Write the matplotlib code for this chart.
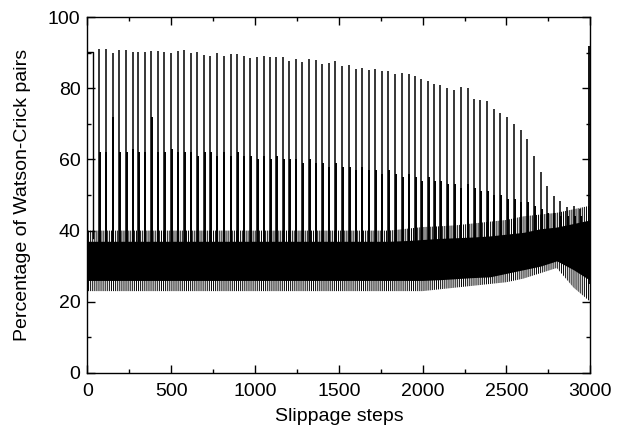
import matplotlib
matplotlib.use("Agg")
import matplotlib.pyplot as plt
from matplotlib.ticker import MultipleLocator

# spike positions (slippage step)
spike_steps = [70, 110, 150, 190, 230, 270, 305, 341, 381, 420,
               460, 498, 538, 577, 617, 655, 695, 734, 771, 814,
               854, 893, 932, 971, 1011, 1051, 1090, 1128, 1166, 1204,
               1243, 1283, 1323, 1361, 1400, 1440, 1480, 1520, 1560, 1600,
               1637, 1677, 1716, 1756, 1796, 1836, 1876, 1916, 1955, 1993,
               2031, 2067, 2105, 2146, 2186, 2226, 2268, 2307, 2345, 2384,
               2424, 2464, 2504, 2544, 2584, 2623, 2665, 2705, 2742, 2782,
               2822, 2862, 2902, 2941]
# spike tops (%)
spike_peak = [91.0, 91.0, 89.9, 90.8, 90.6, 90.3, 90.3, 90.2, 90.4, 90.4,
              90.2, 89.8, 90.4, 90.6, 90.0, 90.2, 89.4, 89.1, 89.9, 89.1,
              89.5, 89.5, 89.1, 88.5, 88.8, 89.1, 88.8, 88.8, 88.8, 87.6,
              88.3, 87.4, 88.1, 87.9, 86.7, 87.0, 87.7, 86.3, 86.6, 85.5,
              85.7, 85.1, 85.5, 84.8, 84.8, 84.0, 84.3, 84.0, 83.3, 82.6,
              81.9, 81.1, 81.0, 80.1, 79.6, 80.3, 80.1, 77.0, 76.8, 76.3,
              74.2, 73.0, 71.9, 70.0, 68.3, 65.7, 61.0, 56.6, 52.4, 49.6,
              48.2, 46.5, 47.0, 46.0]
# shorter companion line next to each spike (%)
spike_mid = [62, 62, 72, 62, 62, 63, 62, 62, 72, 62,
             62, 63, 62, 62, 62, 61, 62, 62, 61, 62,
             61, 62, 61, 61, 60, 61, 60, 61, 60, 60,
             60, 59, 60, 59, 59, 58, 59, 58, 58, 57,
             58, 57, 57, 56, 57, 56, 55, 56, 55, 54,
             55, 54, 54, 53, 53, 52, 53, 52, 51, 51,
             50, 50, 49, 49, 48, 48, 47, 46, 45, 45,
             44, 44, 44, 44]

# start plateau and last spike
start_steps = [0, 35, 35]
start_vals = [90.2, 90.2, 38]
end_step = 2995
end_peak = 91.8

# envelope of the dense oscillating band
env_steps = [0, 100, 200, 300, 400, 500, 600, 700, 800, 900, 1000,
             1100, 1200, 1300, 1400, 1500, 1600, 1700, 1800, 1900, 2000,
             2100, 2200, 2300, 2400, 2500, 2600, 2700, 2800, 2900, 3000]
outer_top = [40, 40, 40, 40, 40, 40, 40, 40, 40, 40, 40,
             40, 40, 40, 40, 40, 40, 40, 40, 40.5, 41,
             41.2, 41.5, 42, 42.5, 43, 44, 44.5, 45, 46, 47]
core_top = [37, 37, 37, 37, 37, 37, 37, 37, 37, 37, 37,
            37, 37, 37, 37, 37, 37, 37, 37, 37.2, 37.5,
            37.8, 38, 38.2, 38.5, 39, 39.5, 40.5, 41, 42, 43]
core_bot = [26, 26, 26, 26, 26, 26, 26, 26, 26, 26, 26,
            26, 26, 26, 26, 26, 26, 26, 26, 26, 26,
            26.2, 26.5, 26.8, 27, 28, 29, 30, 31.5, 29, 26]
outer_bot = [23, 23, 23, 23, 23, 23, 23, 23, 23, 23, 23,
             23, 23, 23, 23, 23, 23, 23, 23, 23, 23,
             23.5, 24, 24.5, 25, 25.5, 26.5, 28, 29.5, 24, 20]

plt.rcParams['font.family'] = ['Liberation Sans', 'DejaVu Sans']
plt.rcParams['font.size'] = 14
plt.rcParams['hatch.linewidth'] = 0.7

fig = plt.figure(figsize=(6.24, 4.32), dpi=100)
ax = fig.add_axes([0.140, 0.1366, 0.806, 0.824])

# ragged edges of the band drawn as vertical hatching, solid core in black
ax.fill_between(env_steps, outer_bot, outer_top, facecolor='none',
                edgecolor='black', hatch='||||||||', linewidth=0)
ax.fill_between(env_steps, core_bot, core_top, color='black', linewidth=0)

base = [34] * len(spike_steps)
ax.vlines([s + 4 for s in spike_steps], base, spike_mid, color='black', linewidth=1.4)
ax.vlines(spike_steps, base, spike_peak, color='black', linewidth=1.1)
ax.plot(start_steps, start_vals, color='black', linewidth=1.0)
ax.vlines([end_step], [25], [end_peak], color='black', linewidth=1.3)

ax.set_xlim(0, 3000)
ax.set_ylim(0, 100)
ax.xaxis.set_major_locator(MultipleLocator(500))
ax.xaxis.set_minor_locator(MultipleLocator(250))
ax.yaxis.set_major_locator(MultipleLocator(20))
ax.yaxis.set_minor_locator(MultipleLocator(10))
ax.tick_params(which='both', direction='in', top=True, right=True, width=1.0)
ax.tick_params(which='major', length=6)
ax.tick_params(axis='x', which='major', pad=7)
ax.tick_params(axis='y', which='major', pad=5)
ax.tick_params(which='minor', length=3)
for sp in ax.spines.values():
    sp.set_linewidth(1.0)

ax.set_xlabel("Slippage steps", labelpad=6)
ax.set_ylabel("Percentage of Watson-Crick pairs", labelpad=12)

fig.savefig("out.png", dpi=100)
